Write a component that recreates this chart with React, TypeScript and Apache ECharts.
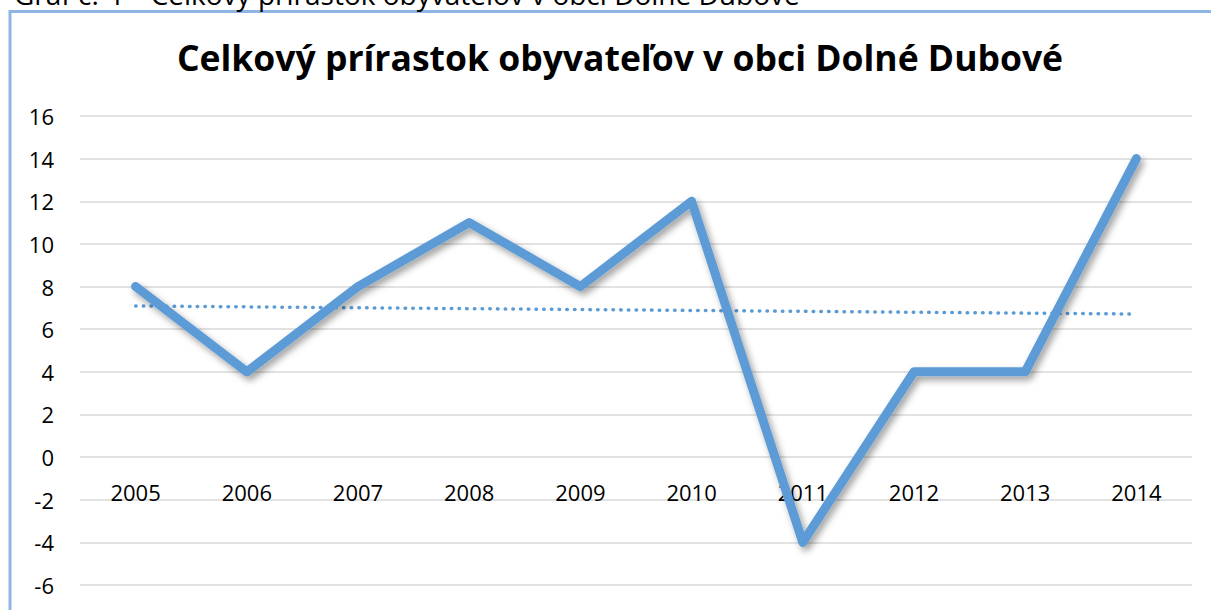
import React, { useEffect, useRef } from "react";
import * as echarts from "echarts";

const categories = ["2005", "2006", "2007", "2008", "2009", "2010", "2011", "2012", "2013", "2014"];
const growth = [8, 4, 8, 11, 8, 12, -4, 4, 4, 14];
const trendStart = 7.09;
const trendEnd = 6.71;
const yMin = -6;
const yMax = 16;
const yStep = 2;
const titleText = "Celkový prírastok obyvateľov v obci Dolné Dubové";
const captionText = "Graf č. 4 – Celkový prírastok obyvateľov v obci Dolné Dubové";

const trendData = categories.map((_, i) =>
  i === 0 ? trendStart : i === categories.length - 1 ? trendEnd : null
);

const GRID_TOP = 116;
const GRID_BOTTOM = 25;
const CHART_H = 610;

export default function App() {
  const ref = useRef<HTMLDivElement>(null);
  useEffect(() => {
    if (!ref.current) return;
    const chart = echarts.init(ref.current, undefined, { renderer: "svg" });
    const font = "'Open Sans', 'Noto Sans', sans-serif";
    const plotH = CHART_H - GRID_TOP - GRID_BOTTOM;
    // move the category axis from the bottom of the grid up to the value 0
    const zeroOffset = -plotH * ((0 - yMin) / (yMax - yMin));
    chart.setOption({
      animation: false,
      backgroundColor: "#ffffff",
      textStyle: { fontFamily: font },
      title: {
        text: titleText,
        left: 615,
        textAlign: "center",
        top: 34,
        textStyle: { fontFamily: font, fontWeight: "bold", fontSize: 35.5, color: "#000" },
      },
      graphic: [
        {
          type: "rect",
          shape: { x: 10, y: 11.5, width: 1400, height: 800 },
          style: { fill: "none", stroke: "#8fb6e3", lineWidth: 3 },
          z: 10,
        },
        {
          type: "text",
          x: 14,
          y: -20,
          style: {
            text: captionText,
            font: "28px 'Open Sans', sans-serif",
            fill: "#000",
            verticalAlign: "top",
          },
          z: 10,
        },
      ],
      grid: {
        left: 80,
        right: 19,
        top: GRID_TOP,
        bottom: GRID_BOTTOM,
        containLabel: false,
        outerBoundsMode: "none",
      },
      xAxis: {
        type: "category",
        data: categories,
        boundaryGap: true,
        offset: zeroOffset,
        axisLine: { show: false, onZero: false },
        axisTick: { show: false },
        axisLabel: { margin: 24, fontSize: 22, color: "#000", fontFamily: font },
        splitLine: { show: false },
      },
      yAxis: {
        type: "value",
        min: yMin,
        max: yMax,
        interval: yStep,
        axisLine: { show: false },
        axisTick: { show: false },
        axisLabel: { margin: 26, fontSize: 22, color: "#000", fontFamily: font },
        splitLine: { lineStyle: { color: "#d9d9d9", width: 1.5 } },
      },
      series: [
        {
          type: "line",
          data: trendData,
          connectNulls: true,
          symbol: "none",
          z: 2,
          lineStyle: { color: "#5b9bd5", width: 3.5, type: [0.5, 7.2], cap: "round" },
        },
        {
          type: "line",
          data: growth,
          symbol: "none",
          z: 3,
          lineStyle: {
            color: "#5b9bd5",
            width: 9,
            cap: "round",
            join: "round",
            shadowColor: "rgba(0,0,0,0.38)",
            shadowBlur: 7,
            shadowOffsetX: 3,
            shadowOffsetY: 4,
          },
        },
      ],
    });
    return () => chart.dispose();
  }, []);
  return (
    <div
      ref={ref}
      style={{ position: "fixed", left: 0, top: 0, width: 1211, height: 610 }}
    />
  );
}
